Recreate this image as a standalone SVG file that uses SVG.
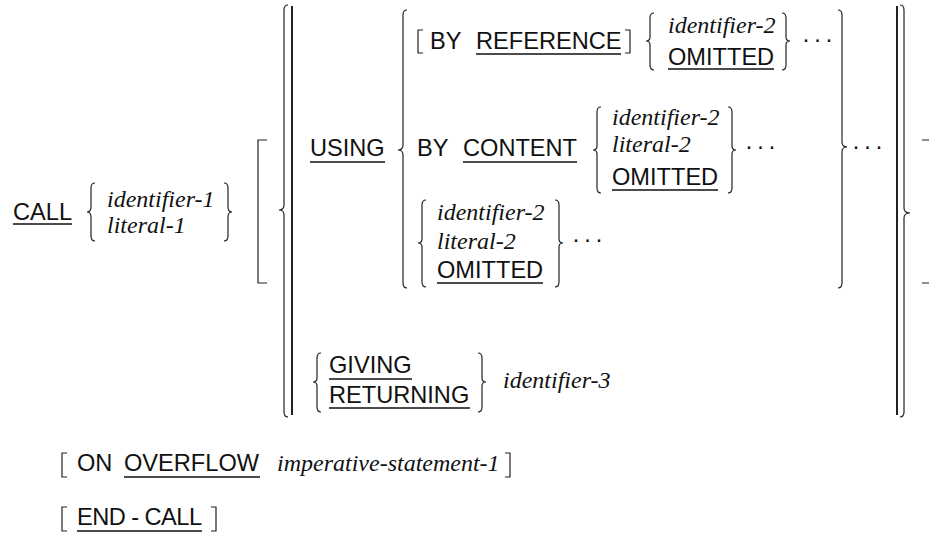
<svg xmlns="http://www.w3.org/2000/svg" width="929" height="538" viewBox="0 0 929 538">
<style>
.k{font-family:"Liberation Sans",Arial,sans-serif;font-size:23.6px;fill:#111}
.v{font-family:"Liberation Serif","Times New Roman",serif;font-style:italic;font-size:24px;fill:#111}
.d{font-family:"Liberation Sans",Arial,sans-serif;font-size:24px;fill:#111;letter-spacing:3.5px}
.b{fill:none;stroke:#222;stroke-width:1.2}
.bar{fill:none;stroke:#222;stroke-width:2}
.u{stroke:#111;stroke-width:1.4}
</style>
<rect width="929" height="538" fill="#fff"/>
<g id="call">
<text class="k" x="13" y="220">CALL</text>
<line class="u" x1="13" y1="224" x2="72" y2="224"/>
<path class="b" d="M95,183 Q91,183 91,188 V207 Q91,212 87,212 Q91,212 91,217 V236 Q91,241 95,241"/>
<text class="v" x="107" y="207">identifier-1</text>
<text class="v" x="107" y="233">literal-1</text>
<path class="b" d="M224,183 Q228,183 228,188 V207 Q228,212 232,212 Q228,212 228,217 V236 Q228,241 224,241"/>
</g>
<g id="outer-brackets">
<path class="b" d="M267,140 H258 V283 H267"/>
<path class="b" d="M922,140 H931 V283 H922"/>
<path class="b" d="M288,5 Q284,5 284,10 V205 Q284,210 279,210 Q284,210 284,215 V412 Q284,417 288,417"/>
<line class="bar" x1="292" y1="6" x2="292" y2="415"/>
<line class="bar" x1="897" y1="6" x2="897" y2="415"/>
<path class="b" d="M900,5 Q904,5 904,10 V208 Q904,213 910,213 Q904,213 904,218 V412 Q904,417 900,417"/>
</g>
<g id="using">
<text class="k" x="310" y="156">USING</text>
<line class="u" x1="310" y1="162" x2="385" y2="162"/>
<path class="b" d="M407,10 Q403,10 403,15 V145 Q403,150 398,150 Q403,150 403,155 V283 Q403,288 407,288"/>
<path class="b" d="M838,10 Q842,10 842,15 V142 Q842,147 847,147 Q842,147 842,152 V283 Q842,288 838,288"/>
<text class="d" x="852" y="154">···</text>
</g>
<g id="by-reference">
<path class="b" d="M423,30 H418 V53 H423"/>
<text class="k" x="430" y="49">BY</text>
<text class="k" x="476" y="49">REFERENCE</text>
<line class="u" x1="476" y1="54" x2="621" y2="54"/>
<path class="b" d="M625,30 H630 V53 H625"/>
<path class="b" d="M654,13 Q650,13 650,18 V37 Q650,41 646,41 Q650,41 650,45 V65 Q650,70 654,70"/>
<text class="v" x="668" y="33">identifier-2</text>
<text class="k" x="668" y="65">OMITTED</text>
<line class="u" x1="668" y1="69" x2="774" y2="69"/>
<path class="b" d="M782,13 Q786,13 786,18 V37 Q786,41 790,41 Q786,41 786,45 V65 Q786,70 782,70"/>
<text class="d" x="802" y="47">···</text>
</g>
<g id="by-content">
<text class="k" x="417" y="156">BY</text>
<text class="k" x="463" y="156">CONTENT</text>
<line class="u" x1="463" y1="162" x2="577" y2="162"/>
<path class="b" d="M601,107 Q597,107 597,112 V146 Q597,150 593,150 Q597,150 597,154 V188 Q597,193 601,193"/>
<text class="v" x="612" y="125">identifier-2</text>
<text class="v" x="612" y="152">literal-2</text>
<text class="k" x="612" y="185">OMITTED</text>
<line class="u" x1="612" y1="190" x2="718" y2="190"/>
<path class="b" d="M728,107 Q732,107 732,112 V146 Q732,150 736,150 Q732,150 732,154 V188 Q732,193 728,193"/>
<text class="d" x="745" y="154">···</text>
</g>
<g id="by-default">
<path class="b" d="M426,200 Q422,200 422,205 V239 Q422,243 418,243 Q422,243 422,247 V282 Q422,287 426,287"/>
<text class="v" x="437" y="220">identifier-2</text>
<text class="v" x="437" y="249">literal-2</text>
<text class="k" x="437" y="278">OMITTED</text>
<line class="u" x1="437" y1="283" x2="543" y2="283"/>
<path class="b" d="M555,200 Q559,200 559,205 V239 Q559,243 563,243 Q559,243 559,247 V282 Q559,287 555,287"/>
<text class="d" x="572" y="247">···</text>
</g>
<g id="giving">
<path class="b" d="M321,353 Q317,353 317,358 V378 Q317,382 313,382 Q317,382 317,386 V407 Q317,412 321,412"/>
<text class="k" x="329" y="373">GIVING</text>
<line class="u" x1="329" y1="379" x2="412" y2="379"/>
<text class="k" x="329" y="403">RETURNING</text>
<line class="u" x1="329" y1="408" x2="470" y2="408"/>
<path class="b" d="M478,353 Q482,353 482,358 V378 Q482,382 486,382 Q482,382 482,386 V407 Q482,412 478,412"/>
<text class="v" x="503" y="388">identifier-3</text>
</g>
<g id="on-overflow">
<path class="b" d="M67,453 H62 V477 H67"/>
<text class="k" x="77" y="471">ON</text>
<text class="k" x="124" y="471">OVERFLOW</text>
<line class="u" x1="124" y1="477" x2="260" y2="477"/>
<text class="v" x="277" y="471">imperative-statement-1</text>
<path class="b" d="M505,453 H510 V477 H505"/>
</g>
<g id="end-call">
<path class="b" d="M67,507 H62 V531 H67"/>
<text class="k" x="77" y="525" textLength="125" lengthAdjust="spacing">END - CALL</text>
<line class="u" x1="77" y1="531" x2="202" y2="531"/>
<path class="b" d="M211,507 H216 V531 H211"/>
</g>
</svg>
